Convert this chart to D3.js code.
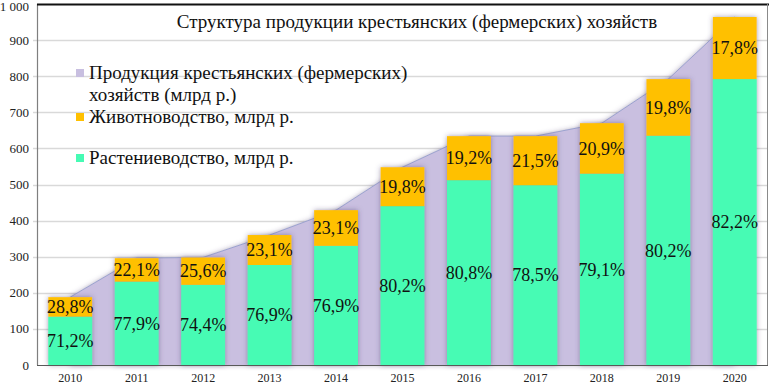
<!DOCTYPE html>
<html>
<head>
<meta charset="utf-8">
<script src="https://cdn.jsdelivr.net/npm/d3@7"></script>
<style>
  body { margin: 0; background: #fff; }
  svg { display: block; }
  svg text { font-family: 'Liberation Serif', 'DejaVu Serif', serif; }
</style>
</head>
<body>
<svg id="chart" width="769" height="384"></svg>
<script>
const years = ['2010', '2011', '2012', '2013', '2014', '2015', '2016', '2017', '2018', '2019', '2020']
const totalOutput = [188, 296, 298, 360, 429, 548, 634, 634, 670, 792, 964]
const cropValues = [134, 231, 222, 277, 330, 440, 512, 498, 530, 635, 792]
const livestockValues = [54, 65, 76, 83, 99, 108, 122, 136, 140, 157, 172]
const cropLabels = ['71,2%', '77,9%', '74,4%', '76,9%', '76,9%', '80,2%', '80,8%', '78,5%', '79,1%', '80,2%', '82,2%']
const livestockLabels = ['28,8%', '22,1%', '25,6%', '23,1%', '23,1%', '19,8%', '19,2%', '21,5%', '20,9%', '19,8%', '17,8%']
const yTicks = [0, 100, 200, 300, 400, 500, 600, 700, 800, 900, 1000]

const title = 'Структура продукции крестьянских (фермерских) хозяйств'
const legendItems = [
  { lines: ['Продукция крестьянских (фермерских)', 'хозяйств (млрд р.)'], color: '#c8bfe0', y: 79 },
  { lines: ['Животноводство, млрд р.'], color: '#ffc000', y: 123 },
  { lines: ['Растениеводство, млрд р.'], color: '#46fbb4', y: 164 }
]

const data = years.map((y, i) => ({
  year: y,
  total: totalOutput[i],
  crop: cropValues[i],
  livestock: livestockValues[i],
  cropLabel: cropLabels[i],
  livestockLabel: livestockLabels[i]
}))

const svg = d3.select('#chart')
const plot = { left: 37, right: 768, top: 4, bottom: 365 }
const serif = "'Liberation Serif', 'DejaVu Serif', serif"

const x = d3.scaleBand()
  .domain(years)
  .range([plot.left, plot.right])
  .paddingInner(0.34)
  .paddingOuter(0.17)

const y = d3.scaleLinear()
  .domain([0, 1000])
  .range([plot.bottom, plot.top])

const defs = svg.append('defs')
const shadow = defs.append('filter')
  .attr('id', 'shadow')
  .attr('x', '-30%').attr('y', '-10%')
  .attr('width', '160%').attr('height', '120%')
shadow.append('feDropShadow')
  .attr('dx', 0).attr('dy', 0)
  .attr('stdDeviation', 2.5)
  .attr('flood-color', '#4a3c6a')
  .attr('flood-opacity', 0.5)

// grid
svg.append('g')
  .selectAll('line')
  .data(yTicks.slice(1, -1))
  .join('line')
  .attr('x1', plot.left - 4).attr('x2', plot.right)
  .attr('y1', d => Math.round(y(d)) + 0.5).attr('y2', d => Math.round(y(d)) + 0.5)
  .attr('stroke', '#d9d9d9')
  .attr('stroke-width', 1.5)

// y axis labels (top one nudged down so it stays inside the picture)
svg.append('g')
  .selectAll('text')
  .data(yTicks)
  .join('text')
  .attr('x', 29)
  .attr('y', d => Math.max(y(d), 6))
  .attr('dy', '0.35em')
  .attr('text-anchor', 'end')
  .attr('font-family', serif)
  .style('font-size', '13px')
  .attr('fill', '#222')
  .text(d => d3.format(',')(d).replace(',', ' '))

// total output area
const area = d3.area()
  .x(d => x(d.year) + x.bandwidth() / 2)
  .y0(y(0))
  .y1(d => y(d.total))

svg.append('path')
  .datum(data)
  .attr('d', area)
  .attr('fill', '#c9bfe0')
  .attr('filter', 'url(#shadow)')

svg.append('path')
  .datum(data)
  .attr('d', d3.line().x(d => x(d.year) + x.bandwidth() / 2).y(d => y(d.total)))
  .attr('fill', 'none')
  .attr('stroke', '#9ba2cf')
  .attr('stroke-width', 1)

// stacked bars
const bars = svg.append('g')
  .selectAll('g')
  .data(data)
  .join('g')
  .attr('filter', 'url(#shadow)')

bars.append('rect')
  .attr('x', d => x(d.year))
  .attr('width', x.bandwidth())
  .attr('y', d => y(d.crop))
  .attr('height', d => y(0) - y(d.crop))
  .attr('fill', '#46fbb4')

bars.append('rect')
  .attr('x', d => x(d.year))
  .attr('width', x.bandwidth())
  .attr('y', d => y(d.crop + d.livestock))
  .attr('height', d => y(d.crop) - y(d.crop + d.livestock))
  .attr('fill', '#ffc000')

// data labels
const labels = svg.append('g')
  .attr('font-family', serif)
  .style('font-size', '18px')
  .attr('fill', '#111')
  .attr('text-anchor', 'middle')

labels.selectAll('.crop')
  .data(data)
  .join('text')
  .attr('class', 'crop')
  .attr('x', d => x(d.year) + x.bandwidth() / 2)
  .attr('y', d => (y(0) + y(d.crop)) / 2)
  .attr('dy', '0.35em')
  .text(d => d.cropLabel)

labels.selectAll('.livestock')
  .data(data)
  .join('text')
  .attr('class', 'livestock')
  .attr('x', d => x(d.year) + x.bandwidth() / 2)
  .attr('y', d => (y(d.crop) + y(d.crop + d.livestock)) / 2)
  .attr('dy', '0.35em')
  .text(d => d.livestockLabel)

// axes lines
svg.append('line')
  .attr('x1', plot.left + 0.5).attr('x2', plot.left + 0.5)
  .attr('y1', plot.top).attr('y2', plot.bottom)
  .attr('stroke', '#7f7f7f').attr('stroke-width', 1.2)
svg.append('line')
  .attr('x1', plot.left).attr('x2', plot.right)
  .attr('y1', plot.bottom + 0.5).attr('y2', plot.bottom + 0.5)
  .attr('stroke', '#595959').attr('stroke-width', 1.2)
svg.append('line')
  .attr('x1', plot.left).attr('x2', 769)
  .attr('y1', plot.top + 0.5).attr('y2', plot.top + 0.5)
  .attr('stroke', '#111').attr('stroke-width', 2)
svg.append('line')
  .attr('x1', plot.right - 0.5).attr('x2', plot.right - 0.5)
  .attr('y1', plot.top).attr('y2', plot.bottom)
  .attr('stroke', '#8a8a8a').attr('stroke-width', 1)

// x axis labels
svg.append('g')
  .selectAll('text')
  .data(years)
  .join('text')
  .attr('x', d => x(d) + x.bandwidth() / 2)
  .attr('y', 382)
  .attr('text-anchor', 'middle')
  .attr('font-family', serif)
  .style('font-size', '12px')
  .attr('fill', '#222')
  .text(d => d)

// title
svg.append('text')
  .attr('x', 417)
  .attr('y', 28)
  .attr('text-anchor', 'middle')
  .attr('font-family', serif)
  .style('font-size', '19px')
  .attr('fill', '#111')
  .text(title)

// legend
const legend = svg.append('g')
legendItems.forEach(item => {
  legend.append('rect')
    .attr('x', 76).attr('y', item.y - 10)
    .attr('width', 8).attr('height', 8)
    .attr('fill', item.color)
  item.lines.forEach((line, j) => {
    legend.append('text')
      .attr('x', 89)
      .attr('y', item.y + j * 22)
      .attr('font-family', serif)
      .style('font-size', '19px')
      .attr('fill', '#111')
      .text(line)
  })
})
</script>
</body>
</html>
